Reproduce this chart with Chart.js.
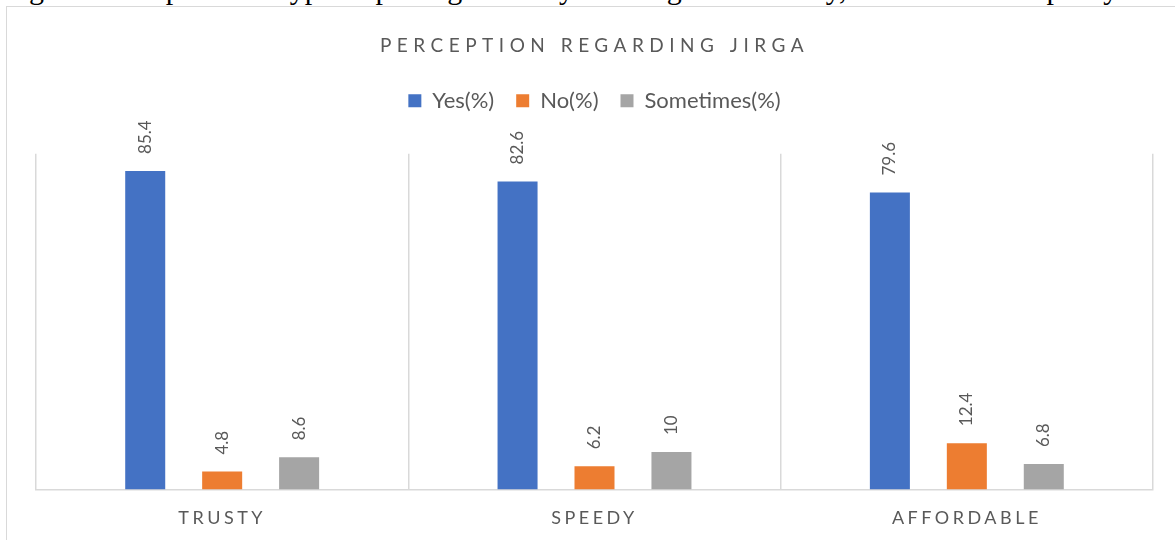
<!DOCTYPE html>
<html>
<head>
<meta charset="utf-8">
<script src="https://cdn.jsdelivr.net/npm/chart.js@4.4.0/dist/chart.umd.min.js"></script>
<style>
    body { margin: 0; background: #fff; overflow: hidden; }
    #captionClip {
        position: absolute; left: 0; top: 0; width: 1175px; height: 7px; overflow: hidden;
    }
    #caption {
        position: absolute; left: 4px; bottom: 0; white-space: nowrap;
        font-family: "Liberation Serif", serif; font-size: 30px; line-height: 36px; color: #000;
    }
    #frame {
        position: absolute; left: 6px; top: 6px; width: 1300px; height: 700px;
        border: 1.5px solid #d9d9d9;
    }
    #wrap { position: absolute; left: 0; top: 0; width: 1175px; height: 559px; }
</style>
</head>
<body>
<div id="captionClip"><div id="caption">Figure 5: Respondents types reporting that they find Jirga trustworthy, affordable and speedy</div></div>
<div id="frame"></div>
<div id="wrap"><canvas id="jirgaChart"></canvas></div>
<script>
// --- Data ---
const categories = ['TRUSTY', 'SPEEDY', 'AFFORDABLE'];
const yesValues = [85.4, 82.6, 79.6];
const noValues = [4.8, 6.2, 12.4];
const sometimesValues = [8.6, 10, 6.8];
const seriesNames = ['Yes(%)', 'No(%)', 'Sometimes(%)'];
const chartTitle = 'PERCEPTION REGARDING JIRGA';

const textGrey = '#595959';
const fontFamily = 'Lato, "Open Sans", sans-serif';

// Rotated value labels above each bar
const barLabels = {
    id: 'barLabels',
    afterDatasetsDraw(chart) {
        const ctx = chart.ctx;
        ctx.save();
        ctx.font = '17px ' + fontFamily;
        ctx.fillStyle = textGrey;
        ctx.textAlign = 'left';
        ctx.textBaseline = 'middle';
        chart.data.datasets.forEach((ds, i) => {
            chart.getDatasetMeta(i).data.forEach((bar, j) => {
                ctx.save();
                ctx.translate(bar.x, bar.y - 17);
                ctx.rotate(-Math.PI / 2);
                ctx.fillText(String(ds.data[j]), 0, 0);
                ctx.restore();
            });
        });
        ctx.restore();
    }
};

// Extra gap below the legend + letter spacing for title and category labels
const officeStyle = {
    id: 'officeStyle',
    beforeInit(chart) {
        const origFit = chart.legend.fit;
        chart.legend.fit = function () {
            origFit.call(this);
            this.height += 32;
        };
        const title = chart.titleBlock;
        const origDraw = title.draw;
        title.draw = function () {
            this.ctx.letterSpacing = '5.5px';
            origDraw.call(this);
            this.ctx.letterSpacing = '0px';
        };
    },
    afterUpdate(chart) {
        const x = chart.scales.x;
        if (x._spaced) return;
        x._spaced = true;
        const origLabels = x.drawLabels;
        x.drawLabels = function (area) {
            this.ctx.letterSpacing = '3.5px';
            origLabels.call(this, area);
            this.ctx.letterSpacing = '0px';
        };
    }
};

const ctx = document.getElementById('jirgaChart').getContext('2d');
const jirgaChart = new Chart(ctx, {
    type: 'bar',
    data: {
        labels: categories,
        datasets: [
            { label: seriesNames[0], data: yesValues, backgroundColor: '#4472C4' },
            { label: seriesNames[1], data: noValues, backgroundColor: '#ED7D31' },
            { label: seriesNames[2], data: sometimesValues, backgroundColor: '#A5A5A5' }
        ]
    },
    options: {
        responsive: true,
        maintainAspectRatio: false,
        animation: false,
        layout: { padding: { left: 36, right: 22, top: 0, bottom: 12 } },
        datasets: { bar: { categoryPercentage: 0.62, barPercentage: 0.52 } },
        plugins: {
            title: {
                display: true,
                text: chartTitle,
                color: textGrey,
                font: { family: fontFamily, size: 19, weight: 'normal' },
                padding: { top: 34, bottom: 11 }
            },
            legend: {
                position: 'top',
                labels: {
                    color: textGrey,
                    font: { family: fontFamily, size: 22 },
                    boxWidth: 13,
                    boxHeight: 13,
                    padding: 22
                }
            },
            tooltip: { enabled: false }
        },
        scales: {
            x: {
                grid: { display: true, color: '#d9d9d9', lineWidth: 1.5, drawTicks: false },
                border: { color: '#d9d9d9', width: 1.5 },
                ticks: {
                    color: textGrey,
                    font: { family: fontFamily, size: 18 },
                    padding: 18
                }
            },
            y: {
                display: false,
                min: 0,
                max: 90
            }
        }
    },
    plugins: [barLabels, officeStyle]
});
</script>
</body>
</html>
